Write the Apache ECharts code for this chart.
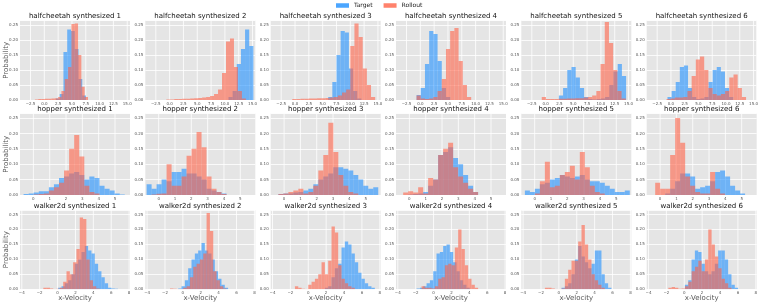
<!DOCTYPE html>
<html><head><meta charset="utf-8">
<script src="https://cdn.jsdelivr.net/npm/echarts@6/dist/echarts.min.js"></script>
<style>html,body{margin:0;padding:0;background:#fff}#c{width:761px;height:304px}</style>
</head><body><div id="c"></div>
<script>
// ---------- data ----------
const seriesNames = ['Target', 'Rollout'];
const envNames = ['halfcheetah', 'hopper', 'walker2d'];
const halfcheetahTicks = [-2.5, 0, 2.5, 5, 7.5, 10, 12.5, 15];
const hopperTicks = [0, 1, 2, 3, 4, 5];
const walkerTicks = [-4, -2, 0, 2, 4, 6, 8];
const yTicks = [0, 0.05, 0.1, 0.15, 0.2, 0.25];

// [first bin edge, bin width] per subplot
const halfcheetahTargetBins = [[2.1,0.68],[10.65,0.75],[6.0,0.75],[-0.68,0.76],[2.4,0.76],[-0.62,0.745]];
const halfcheetahTarget = [
 [0.005,0.02,0.16,0.235,0.23,0.17,0.07,0.015],
 [0.01,0.03,0.12,0.17,0.235,0.18],
 [0.01,0.06,0.15,0.23,0.225,0.105,0.03,0.005],
 [0.017,0.04,0.12,0.23,0.22,0.13,0.04,0.01],
 [0.015,0.04,0.1,0.11,0.075,0.04,0.01,0.003,0.002,0.003,0.005,0.01,0.05,0.095,0.12,0.08],
 [0.01,0.03,0.06,0.11,0.115,0.04,0.01,0.003,0.005,0.01,0.06,0.1,0.11,0.095,0.04,0.01]
];
const halfcheetahRolloutBins = [[-1.7,0.6],[-0.6,0.72],[-0.5,0.75],[-0.68,0.76],[-0.7,0.76],[-0.8,0.76]];
const halfcheetahRollout = [
 [0.002,0.003,0.003,0.004,0.004,0.005,0.006,0.01,0.03,0.07,0.11,0.253,0.255,0.15,0.044,0.01],
 [0.002,0.002,0.003,0.003,0.004,0.004,0.005,0.006,0.007,0.008,0.01,0.013,0.02,0.035,0.09,0.195,0.205,0.11,0.03,0.005],
 [0.003,0.003,0.004,0.004,0.005,0.005,0.006,0.006,0.007,0.008,0.01,0.015,0.025,0.035,0.18,0.255,0.21,0.105,0.05,0.01],
 [0.015,0.005,0.003,0.005,0.01,0.03,0.07,0.17,0.23,0.24,0.13,0.05,0.01],
 [0.01,0.003,0.003,0.003,0.004,0.004,0.005,0.005,0.006,0.006,0.008,0.01,0.015,0.03,0.12,0.26,0.19,0.1,0.03,0.005],
 [0.003,0.005,0.008,0.008,0.01,0.03,0.08,0.135,0.145,0.1,0.04,0.02,0.015,0.02,0.03,0.075,0.085,0.04,0.01]
];

const hopperTargetBins = [[-0.6,0.31],[-0.74,0.306],[-0.35,0.306],[-0.38,0.306],[-0.6,0.306],[-0.3,0.306]];
const hopperTarget = [
 [0.003,0.005,0.008,0.012,0.012,0.025,0.035,0.055,0.06,0.07,0.075,0.065,0.05,0.06,0.055,0.03,0.02,0.015,0.005,0.002],
 [0.035,0.02,0.035,0.05,0.045,0.075,0.075,0.085,0.07,0.07,0.06,0.05,0.02,0.015,0.01,0.005],
 [0.003,0.005,0.005,0.008,0.01,0.015,0.02,0.035,0.05,0.06,0.07,0.09,0.09,0.085,0.08,0.065,0.05,0.03,0.02,0.025],
 [0,0.002,0.003,0.005,0.01,0.03,0.05,0.13,0.14,0.155,0.12,0.1,0.065,0.03,0.01],
 [0.015,0.01,0.02,0.035,0.04,0.05,0.055,0.065,0.06,0.055,0.06,0.065,0.05,0.045,0.045,0.04,0.03,0.02,0.01,0.01,0.015],
 [0,0,0.005,0.02,0.045,0.07,0.07,0.06,0.02,0.025,0.03,0.045,0.075,0.08,0.06,0.03,0.015,0.005]
];
const hopperRolloutBins = [[-0.6,0.31],[-0.74,0.306],[-0.35,0.306],[-0.38,0.306],[-0.6,0.306],[-0.3,0.306]];
const hopperRollout = [
 [0,0,0.002,0.003,0.005,0.015,0.025,0.04,0.08,0.15,0.195,0.125,0.03,0.01,0.005],
 [0,0.002,0.004,0.005,0.1,0.03,0.03,0.06,0.128,0.15,0.205,0.155,0.06,0.02,0.01,0.003],
 [0.003,0.005,0.01,0.015,0.02,0.005,0.01,0.03,0.08,0.13,0.235,0.14,0.065,0.03,0.01,0.005],
 [0.008,0.012,0.008,0.025,0.005,0.055,0.05,0.13,0.15,0.17,0.09,0.06,0.04,0.02,0.01],
 [0,0,0.005,0.045,0.108,0.025,0.03,0.065,0.075,0.095,0.05,0.14,0.09,0.03,0.01,0.005],
 [0.04,0.02,0.02,0.13,0.25,0.17,0.06,0.03,0.01,0.005,0.005,0.075,0.02,0.005]
];

const walkerTargetBins = [[0.07,0.372],[-0.52,0.372],[1.86,0.372],[-1.9,0.372],[0.3,0.372],[0.07,0.372]];
const walkerTarget = [
 [0.005,0.01,0.02,0.03,0.05,0.085,0.1,0.125,0.145,0.13,0.12,0.085,0.06,0.04,0.02,0.005,0.003,0.002],
 [0.003,0.01,0.03,0.07,0.1,0.12,0.13,0.155,0.13,0.12,0.1,0.06,0.035,0.015,0.005],
 [0.005,0.01,0.04,0.07,0.085,0.14,0.16,0.15,0.12,0.09,0.055,0.035,0.02,0.01,0.005],
 [0.003,0.005,0.01,0.02,0.03,0.06,0.12,0.125,0.145,0.15,0.125,0.09,0.06,0.03,0.015,0.005],
 [0.005,0.01,0.02,0.05,0.1,0.145,0.11,0.09,0.07,0.085,0.13,0.13,0.05,0.02,0.005],
 [0.015,0.03,0.1,0.13,0.125,0.085,0.06,0.05,0.06,0.085,0.13,0.13,0.1,0.05,0.015,0.005]
];
const walkerRolloutBins = [[-1.59,0.37],[-1.44,0.372],[-1.49,0.372],[-1.34,0.372],[-1.56,0.372],[-1.78,0.372]];
const walkerRollout = [
 [0.005,0.005,0.003,0.001,0.002,0.005,0.025,0.06,0.05,0.09,0.135,0.24,0.235,0.1,0.03,0.01,0.003],
 [0.003,0.002,0.001,0.001,0.005,0.01,0.04,0.075,0.085,0.1,0.12,0.255,0.195,0.06,0.03,0.01,0.003],
 [0.01,0.005,0.002,0.001,0.015,0.025,0.035,0.05,0.09,0.05,0.095,0.21,0.19,0.08,0.035,0.02,0.01,0.005],
 [0.01,0.005,0.005,0.003,0.01,0.035,0.04,0.08,0.085,0.08,0.14,0.2,0.135,0.08,0.035,0.015,0.005],
 [0.005,0.005,0.003,0.001,0.001,0.003,0.035,0.065,0.095,0.095,0.16,0.215,0.15,0.1,0.05,0.03,0.015,0.005],
 [0.005,0.008,0.005,0.002,0.003,0.01,0.025,0.06,0.075,0.095,0.06,0.1,0.2,0.15,0.11,0.07,0.035,0.02,0.005]
];

// ---------- layout / style ----------
const FONT = '"DejaVu Sans", sans-serif';
const BLUE = 'rgba(30,144,255,0.6)';
const RED = 'rgba(255,99,71,0.6)';
const colLefts = [20, 145.3, 270.7, 396, 521.3, 646.7];
const plotW = 110;
const rowTops = [20.5, 113.5, 210];
const rowHeights = [79.5, 81.5, 79.3];
const minus = s => s.replace('-', '\u2212');
const rows = [
  {env: envNames[0], ticks: halfcheetahTicks, range: [-4.4, 15.5], fmt: v => minus(v.toFixed(1)),
   tb: halfcheetahTargetBins, t: halfcheetahTarget, rb: halfcheetahRolloutBins, r: halfcheetahRollout},
  {env: envNames[1], ticks: hopperTicks, range: [-0.82, 5.92], fmt: v => minus(String(v)),
   tb: hopperTargetBins, t: hopperTarget, rb: hopperRolloutBins, r: hopperRollout},
  {env: envNames[2], ticks: walkerTicks, range: [-4.2, 8.1], fmt: v => minus(String(v)),
   tb: walkerTargetBins, t: walkerTarget, rb: walkerRolloutBins, r: walkerRollout}
];

function toBins(spec, vals) {
  return vals.map((v, i) => [spec[0] + i * spec[1], spec[0] + (i + 1) * spec[1], v]);
}
function barRenderer(fill) {
  return function (params, api) {
    const p0 = api.coord([api.value(0), api.value(2)]);
    const p1 = api.coord([api.value(1), 0]);
    return {type: 'rect', shape: {x: p0[0], y: p0[1], width: p1[0] - p0[0], height: p1[1] - p0[1]},
      style: {fill: fill}};
  };
}
function gridLineRenderer(params, api) {
  const cs = params.coordSys;
  const x = api.coord([api.value(0), 0])[0];
  return {type: 'line', shape: {x1: x, y1: cs.y, x2: x, y2: cs.y + cs.height},
    style: {stroke: '#ffffff', lineWidth: 0.8}};
}

const grids = [], xAxes = [], yAxes = [], series = [], graphics = [];
rows.forEach((row, ri) => {
  for (let ci = 0; ci < 6; ci++) {
    const gi = ri * 6 + ci;
    grids.push({left: colLefts[ci], top: rowTops[ri], width: plotW, height: rowHeights[ri],
      show: true, backgroundColor: '#E5E5E5', borderWidth: 0, containLabel: false});
    xAxes.push({gridIndex: gi, type: 'value', min: row.range[0], max: row.range[1],
      axisLine: {show: false}, axisTick: {show: false}, splitLine: {show: false},
      axisLabel: {customValues: row.ticks, formatter: row.fmt, fontSize: 4, color: '#555',
        margin: 2, fontFamily: FONT}});
    yAxes.push({gridIndex: gi, type: 'value', min: 0, max: 0.265, interval: 0.05,
      axisLine: {show: false}, axisTick: {show: false},
      splitLine: {show: true, lineStyle: {color: '#ffffff', width: 0.8}},
      axisLabel: {fontSize: 4, color: '#555', margin: 2, fontFamily: FONT, showMaxLabel: false,
        formatter: v => (yTicks.some(t => Math.abs(t - v) < 1e-6) ? v.toFixed(2) : '')}});
    series.push({type: 'custom', xAxisIndex: gi, yAxisIndex: gi, silent: true, z: 1,
      data: row.ticks.map(v => [v, 0]), encode: {x: 0, y: 1}, renderItem: gridLineRenderer});
    series.push({type: 'custom', name: seriesNames[0], xAxisIndex: gi, yAxisIndex: gi, z: 2, clip: true,
      itemStyle: {color: BLUE}, data: toBins(row.tb[ci], row.t[ci]), encode: {x: [0, 1], y: 2},
      renderItem: barRenderer(BLUE)});
    series.push({type: 'custom', name: seriesNames[1], xAxisIndex: gi, yAxisIndex: gi, z: 3, clip: true,
      itemStyle: {color: RED}, data: toBins(row.rb[ci], row.r[ci]), encode: {x: [0, 1], y: 2},
      renderItem: barRenderer(RED)});
    graphics.push({type: 'text', x: colLefts[ci] + plotW / 2, y: rowTops[ri] - 4, silent: true,
      style: {text: row.env + ' synthesized ' + (ci + 1), textAlign: 'center', textVerticalAlign: 'middle',
        font: '7px ' + FONT, fill: '#111'}});
  }
  graphics.push({type: 'text', x: 6, y: rowTops[ri] + rowHeights[ri] / 2, rotation: Math.PI / 2, silent: true,
    style: {text: 'Probability', textAlign: 'center', textVerticalAlign: 'middle', font: '7px ' + FONT, fill: '#555'}});
});
for (let ci = 0; ci < 6; ci++) {
  graphics.push({type: 'text', x: colLefts[ci] + plotW / 2, y: 298, silent: true,
    style: {text: 'x-Velocity', textAlign: 'center', textVerticalAlign: 'middle', font: '7px ' + FONT, fill: '#555'}});
}

const chart = echarts.init(document.getElementById('c'), null, {renderer: 'canvas', width: 761, height: 304});
chart.setOption({
  animation: false,
  backgroundColor: '#ffffff',
  grid: grids, xAxis: xAxes, yAxis: yAxes, series: series,
  legend: {left: 336, top: 2.5, padding: 0, itemWidth: 13, itemHeight: 4.5, itemGap: 11, icon: 'rect', selectedMode: false,
    textStyle: {fontSize: 6, color: '#222', fontFamily: FONT, padding: [0, 0, 0, 0]},
    data: [{name: 'Target', itemStyle: {color: 'rgba(30,144,255,0.8)'}},
           {name: 'Rollout', itemStyle: {color: 'rgba(255,99,71,0.8)'}}]},
  graphic: graphics
});
</script></body></html>
